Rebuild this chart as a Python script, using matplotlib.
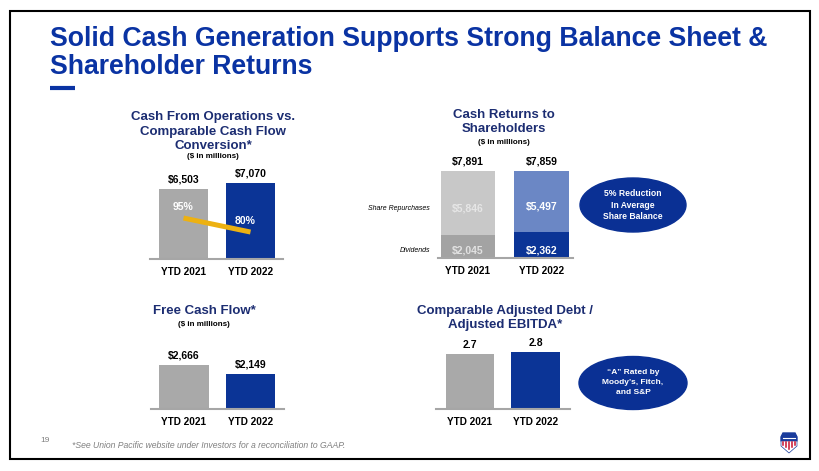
import matplotlib
matplotlib.use("Agg")
import matplotlib.pyplot as plt
from matplotlib.patches import Ellipse, Rectangle, Polygon

plt.rcParams['font.family'] = ['Liberation Sans', 'DejaVu Sans']

years = ['YTD 2021', 'YTD 2022']
cash_ops = [6503, 7070]
conversion = [95, 80]
dividends = [2045, 2362]
repurchases = [5846, 5497]
total_returns = [7891, 7859]
fcf = [2666, 2149]
leverage = [2.7, 2.8]

W, H = 820, 471
BLUE = '#0B3496'
GRAY = '#A9A9A9'
NAVY = '#1C2D72'
BASE = '#A6A6A6'

fig = plt.figure(figsize=(W / 100, H / 100), dpi=100)
bg = fig.add_axes([0, 0, 1, 1])
bg.set_xlim(0, W)
bg.set_ylim(H, 0)
bg.axis('off')


def chart_ax(left, right, base, top, c0, c1, ymax_px, ymax_val):
    # pixel box -> axes, bars at x=0 and x=1 centred at c0, c1
    ax = fig.add_axes([left / W, (H - base) / H, (right - left) / W, (base - top) / H])
    step = c1 - c0
    ax.set_xlim((left - c0) / step, (right - c0) / step)
    ax.set_ylim(0, (base - top) / ymax_px * ymax_val)
    for s in ['top', 'left', 'right']:
        ax.spines[s].set_visible(False)
    ax.spines['bottom'].set_color(BASE)
    ax.spines['bottom'].set_linewidth(1.5)
    ax.set_yticks([])
    ax.set_xticks([0, 1])
    ax.set_xticklabels(years, fontsize=7.2, fontweight='bold')
    ax.tick_params(axis='x', length=0, pad=5.5)
    ax.patch.set_alpha(0)
    return ax


def value_labels(ax, vals, fmt):
    for i, v in enumerate(vals):
        ax.annotate(fmt(v), (i, v), xytext=(0, 6.8), textcoords='offset points',
                    ha='center', va='center', fontsize=7.5, fontweight='bold')


# main title
bg.text(50, 39, 'Solid Cash Generation Supports Strong Balance Sheet &', fontsize=19.2,
        fontweight='bold', color='#0A33A3', va='center', ha='left')
bg.text(50, 67, 'Shareholder Returns', fontsize=19.2, fontweight='bold', color='#0A33A3',
        va='center', ha='left')
bg.plot([50, 75], [88, 88], color='#0A33A3', lw=3, solid_capstyle='butt')

# frame
bg.add_patch(Rectangle((10, 11), 800, 448, fill=False, ec='black', lw=1.5))

# chart titles
bg.text(213, 131.5, 'Cash From Operations vs.\nComparable Cash Flow\nConversion*', fontsize=9.5,
        fontweight='bold', color=NAVY, ha='center', va='center', linespacing=1.33)
bg.text(213, 157, '($ in millions)', fontsize=5.8, fontweight='bold', ha='center', va='center')
bg.text(504, 122, 'Cash Returns to\nShareholders', fontsize=9.5, fontweight='bold',
        color=NAVY, ha='center', va='center', linespacing=1.33)
bg.text(504, 143, '($ in millions)', fontsize=5.8, fontweight='bold', ha='center', va='center')
bg.text(204, 311, 'Free Cash Flow*', fontsize=9.5, fontweight='bold', color=NAVY,
        ha='center', va='center')
bg.text(204, 324, '($ in millions)', fontsize=5.8, fontweight='bold', ha='center', va='center')
bg.text(505, 318, 'Comparable Adjusted Debt /\nAdjusted EBITDA*', fontsize=9.5,
        fontweight='bold', color=NAVY, ha='center', va='center', linespacing=1.33)

# top left: cash from operations + conversion line
ax1 = chart_ax(150, 283, 259, 150, 183.5, 250.5, 76, 7070)
ax1.bar([0, 1], cash_ops, width=0.73, color=[GRAY, BLUE])
value_labels(ax1, cash_ops, lambda v: f'${v:,}')
ax1b = ax1.twinx()
ax1b.set_ylim(51.1, 51.1 + (259 - 150) / 0.933)
ax1b.axis('off')
ax1b.plot([0, 1], conversion, color='#EDB111', lw=3.6, solid_capstyle='butt')
ax1b.annotate(f'{conversion[0]}%', (0, conversion[0]), xytext=(0, 8), textcoords='offset points',
              ha='center', va='center', fontsize=7.5, fontweight='bold', color='white')
ax1b.annotate(f'{conversion[1]}%', (1, conversion[1]), xytext=(-4, 8), textcoords='offset points',
              ha='center', va='center', fontsize=7.5, fontweight='bold', color='white')

# top right: cash returns stacked
ax2 = chart_ax(438, 573, 258, 150, 468, 541.5, 87, 7891)
ax2.bar([0, 1], dividends, width=0.74, color=['#A3A3A3', BLUE])
ax2.bar([0, 1], repurchases, bottom=dividends, width=0.74, color=['#C8C8C8', '#6B87C5'])
value_labels(ax2, total_returns, lambda v: f'${v:,}')
for i in range(2):
    ax2.annotate(f'${repurchases[i]:,}', (i, dividends[i] + repurchases[i] / 2), xytext=(0, -3.5),
                 textcoords='offset points', ha='center', va='center', fontsize=7.5,
                 fontweight='bold', color=['#E6E6E6', 'white'][i])
    ax2.annotate(f'${dividends[i]:,}', (i, 0), xytext=(0, 5.2), textcoords='offset points',
                 ha='center', va='center', fontsize=7.5, fontweight='bold',
                 color=['#E2E2E2', 'white'][i])
bg.text(430, 208, 'Share Repurchases', fontsize=5.0, style='italic', ha='right', va='center')
bg.text(430, 250, 'Dividends', fontsize=5.0, style='italic', ha='right', va='center')

# ellipses
bg.add_patch(Ellipse((633, 205), 106, 54, color='#0A3094'))
bg.text(633, 205, '5% Reduction\nIn Average\nShare Balance', fontsize=6.2, fontweight='bold',
        color='white', ha='center', va='center', linespacing=1.4)
bg.add_patch(Ellipse((633, 383), 108, 53, color='#0A3094'))
bg.text(633, 383, '\u201cA\u201d Rated by\nMoody\u2019s, Fitch,\nand S&P', fontsize=6.0,
        fontweight='bold', color='white', ha='center', va='center', linespacing=1.6)

# bottom left: free cash flow
ax3 = chart_ax(151, 284, 409, 330, 184, 250.5, 44, 2666)
ax3.bar([0, 1], fcf, width=0.74, color=[GRAY, BLUE])
value_labels(ax3, fcf, lambda v: f'${v:,}')

# bottom right: leverage
ax4 = chart_ax(436, 570, 409, 330, 470, 535.5, 57, 2.8)
ax4.bar([0, 1], leverage, width=0.74, color=[GRAY, BLUE])
value_labels(ax4, leverage, lambda v: f'{v}')

# footer
bg.text(45, 441, '19', fontsize=6, color='#808080', ha='center', va='center')
bg.text(72, 446, '*See Union Pacific website under Investors for a reconciliation to GAAP.',
        fontsize=6.2, style='italic', color='#808080', ha='left', va='center')

# shield logo
bg.add_patch(Polygon([(781, 437), (783, 433), (795, 433), (797, 437), (797, 441), (781, 441)],
                     closed=True, color='#1A3C9C'))
bg.add_patch(Polygon([(781, 441), (797, 441), (797, 446), (789, 453), (781, 446)],
                     closed=True, color='white', ec='#1A3C9C', lw=0.5))
for xs in [783, 786, 789, 792, 795]:
    bg.plot([xs, xs], [442, 449 - abs(xs - 789) * 0.6], color='#C8102E', lw=1.1)
bg.plot([783, 795], [438, 438], color='white', lw=0.8)

fig.savefig('out.png', dpi=100)
